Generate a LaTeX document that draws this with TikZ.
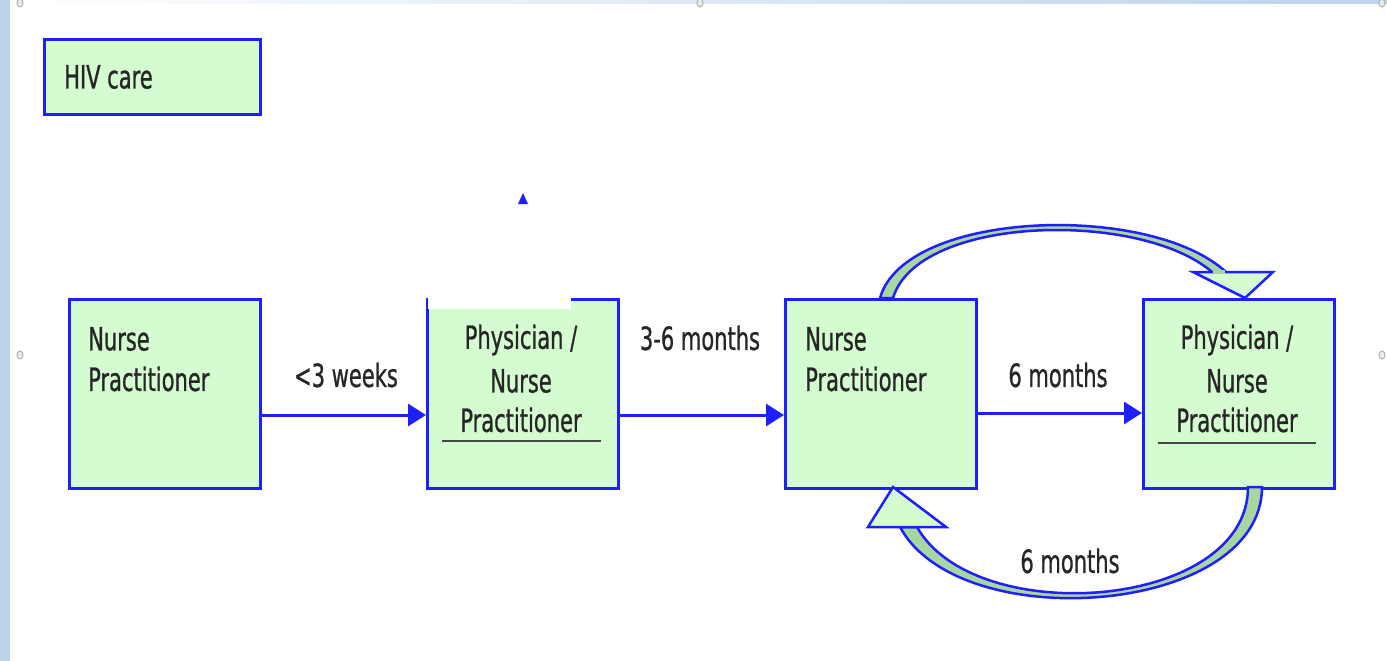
\documentclass[tikz,border=0pt]{standalone}
\usepackage{fontspec}
\setmainfont{DejaVu Sans Condensed}
\newfontfamily\lblfont[FakeStretch=0.73,FakeBold=0.8]{DejaVu Sans Condensed}
\usetikzlibrary{arrows.meta}
\definecolor{bxfill}{HTML}{D5FBD0}
\definecolor{bxline}{HTML}{1E1EFF}
\definecolor{shaft}{HTML}{A8D6A0}
\definecolor{strip}{HTML}{BCD3EA}
\definecolor{ulin}{HTML}{404840}
\tikzset{
  box/.style={draw=bxline, line width=3pt, fill=bxfill, rectangle, inner sep=0pt},
  lbl/.style={font=\lblfont\fontsize{32}{38}\selectfont, inner sep=0pt, text=black!85},
  flow/.style={draw=bxline, line width=3pt, -{Triangle[length=18pt,width=22pt]}},
  block/.style={draw=bxline, line width=2.5pt, line join=miter},
  handle/.style={draw=gray!60, fill=gray!15, line width=1pt}
}
\begin{document}
\begin{tikzpicture}[x=1pt,y=-1pt]
\useasboundingbox (0,0) rectangle (1387,661);
\fill[white] (0,0) rectangle (1387,661);
% window edges
\fill[strip] (0,0) rectangle (10,661);
\shade[left color=white, right color=strip] (10,0) rectangle (1387,4);
\foreach \hx/\hy in {20/3,700/3,1382/3,20/355,1382/355}
  \draw[handle] (\hx,\hy) ellipse (3pt and 4pt);

% legend
\node[box, minimum width=216pt, minimum height=75pt, anchor=north west] (hiv) at (43,38) {};
\node[lbl, anchor=west] (hivt) at (64,77) {HIV care};

% boxes
\node[box, minimum width=191pt, minimum height=189pt, anchor=north west] (b1) at (68,298) {};
\node[box, minimum width=191pt, minimum height=189pt, anchor=north west] (b2) at (426,298) {};
\node[box, minimum width=191pt, minimum height=189pt, anchor=north west] (b3) at (784,298) {};
\node[box, minimum width=191pt, minimum height=189pt, anchor=north west] (b4) at (1142,298) {};

% white patch over box 2 and small arrow tip
\fill[white] (428,210) rectangle (571,309);
\fill[bxline] (523,193) -- (518,204) -- (528,204) -- cycle;

% box texts
\node[lbl, anchor=west] (t1a) at (88,339) {Nurse};
\node[lbl, anchor=west] (t1b) at (88,379) {Practitioner};
\node[lbl] (t2a) at (521,340) {Physician /};
\node[lbl] (t2b) at (521,381) {Nurse};
\node[lbl] (t2c) at (521,420) {Practitioner};
\draw[ulin, line width=2pt] (442,441) -- (601,441);
\node[lbl, anchor=west] (t3a) at (805,339) {Nurse};
\node[lbl, anchor=west] (t3b) at (805,379) {Practitioner};
\node[lbl] (t4a) at (1237,340) {Physician /};
\node[lbl] (t4b) at (1237,381) {Nurse};
\node[lbl] (t4c) at (1237,420) {Practitioner};
\draw[ulin, line width=2pt] (1158,443) -- (1316,443);

% straight arrows
\draw[flow] (b1.east |- 0,415) -- (b2.west |- 0,415);
\draw[flow] (b2.east |- 0,415) -- (b3.west |- 0,415);
\draw[flow] (b3.east |- 0,413) -- (b4.west |- 0,413);
\node[lbl] (l1) at (346,375) {<3 weeks};
\node[lbl] (l2) at (700,338) {3-6 months};
\node[lbl] (l3) at (1058,375) {6 months};

% top curved block arrow
\path[block, fill=shaft] (880,298) .. controls (905,210) and (1150,202) .. (1226,272)
  -- (1212,272) .. controls (1140,210) and (918,215) .. (893,298) -- cycle;
\path[block, fill=bxfill] (1193,272) -- (1273,272) -- (1245,298) -- cycle;
\fill[shaft] (1213,270) -- (1225,270) -- (1225,274) -- (1213,274) -- cycle;

% bottom curved block arrow
\path[block, fill=shaft] (1262,487) .. controls (1262,615) and (960,638) .. (900,527)
  -- (917,527) .. controls (975,630) and (1248,610) .. (1248,487) -- cycle;
\path[block, fill=bxfill] (868,527) -- (946,527) -- (893,487) -- cycle;
\node[lbl] (l4) at (1070,561) {6 months};
\end{tikzpicture}
\end{document}
